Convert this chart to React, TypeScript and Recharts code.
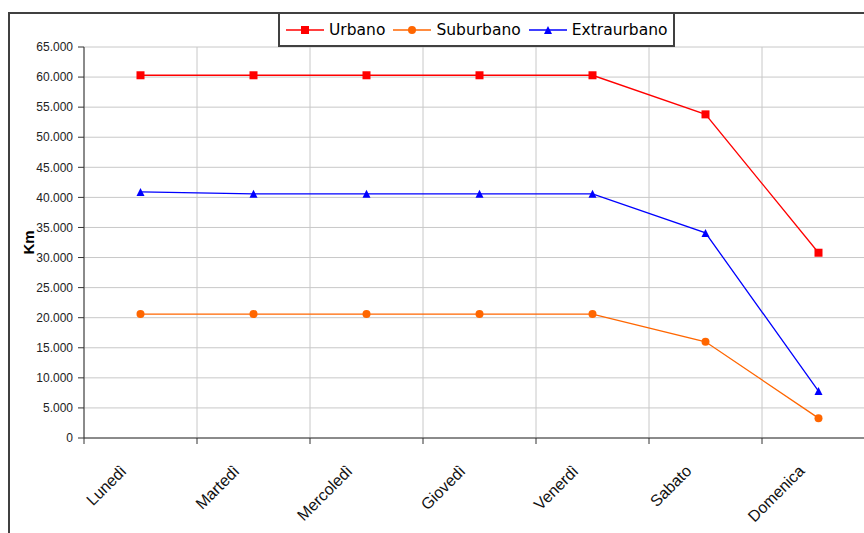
import { LineChart, Line, XAxis, YAxis, CartesianGrid, Legend } from "recharts";

const days = ["Lunedì", "Martedì", "Mercoledì", "Giovedì", "Venerdì", "Sabato", "Domenica"];
const urbano = [60300, 60300, 60300, 60300, 60300, 53800, 30800];
const suburbano = [20600, 20600, 20600, 20600, 20600, 16000, 3300];
const extraurbano = [40900, 40600, 40600, 40600, 40600, 34100, 7800];
const yTicks = [0, 5000, 10000, 15000, 20000, 25000, 30000, 35000, 40000, 45000, 50000, 55000, 60000, 65000];

const data = days.map((day, i) => ({
  day,
  urbano: urbano[i],
  suburbano: suburbano[i],
  extraurbano: extraurbano[i],
}));

const RED = "#FF0000";
const ORANGE = "#FF6600";
const BLUE = "#0000FF";

function fmt(v: number) {
  return String(v).replace(/\B(?=(\d{3})+(?!\d))/g, ".");
}

function Marker({ shape, cx, cy, color, size }: any) {
  const h = size / 2;
  if (shape === "square") return <rect x={cx - h} y={cy - h} width={size} height={size} fill={color} />;
  if (shape === "circle") return <circle cx={cx} cy={cy} r={h} fill={color} />;
  return <polygon points={`${cx},${cy - h} ${cx + h},${cy + h} ${cx - h},${cy + h}`} fill={color} />;
}

const series = [
  { key: "urbano", name: "Urbano", color: RED, shape: "square" },
  { key: "suburbano", name: "Suburbano", color: ORANGE, shape: "circle" },
  { key: "extraurbano", name: "Extraurbano", color: BLUE, shape: "triangle" },
];

function LegendBox() {
  return (
    <div
      style={{
        display: "flex",
        alignItems: "center",
        height: 31,
        padding: "0 6px",
        border: "2px solid #404040",
        background: "#fff",
        fontFamily: "DejaVu Sans, sans-serif",
        fontSize: 15.5,
        color: "#000",
        whiteSpace: "nowrap",
      }}
    >
      {series.map((s, i) => (
        <div key={s.key} style={{ display: "flex", alignItems: "center", marginRight: i < series.length - 1 ? 8 : 0 }}>
          <svg width={38} height={14}>
            <line x1={0} y1={7} x2={38} y2={7} stroke={s.color} strokeWidth={1.3} />
            <Marker shape={s.shape} cx={19} cy={7} color={s.color} size={8} />
          </svg>
          <span style={{ marginLeft: 5 }}>{s.name}</span>
        </div>
      ))}
    </div>
  );
}

function DayTick({ x, y, payload, index }: any) {
  const half = payload && payload.offset ? payload.offset : 0;
  const tx = x - 13;
  const ty = y + 26;
  return (
    <g>
      <line x1={x - half} y1={y - 8} x2={x - half} y2={y - 2} stroke="#333" />
      {index === days.length - 1 && <line x1={x + half} y1={y - 8} x2={x + half} y2={y - 2} stroke="#333" />}
      <text
        x={tx}
        y={ty}
        transform={`rotate(-45, ${tx}, ${ty})`}
        textAnchor="end"
        fontSize={16}
        fontFamily="Liberation Sans, Arial, sans-serif"
        fill="#111"
      >
        {payload.value}
      </text>
    </g>
  );
}

function KmLabel({ viewBox }: any) {
  const cx = viewBox.x + 14;
  const cy = viewBox.y + viewBox.height / 2;
  return (
    <text
      x={cx}
      y={cy}
      transform={`rotate(-90, ${cx}, ${cy})`}
      textAnchor="middle"
      dominantBaseline="central"
      fontSize={15}
      fontWeight="bold"
      fontFamily="Liberation Sans, Arial, sans-serif"
      fill="#000"
    >
      Km
    </text>
  );
}

function boundaries({ xAxis }: any) {
  const s = xAxis && xAxis.scale;
  if (!s) return [];
  const f = typeof s === "function" ? s : (v: string) => s.map(v);
  const bw = typeof s.bandwidth === "function" ? s.bandwidth() : 0;
  const pts = days.map((d) => f(d));
  pts.push(pts[pts.length - 1] + bw);
  return pts;
}

export default function App() {
  return (
    <div style={{ position: "fixed", left: 0, top: 0, width: 864, height: 533, overflow: "hidden", background: "#fff" }}>
      <div
        style={{
          position: "absolute",
          left: 8,
          top: 12,
          width: 920,
          height: 600,
          border: "2px solid #404040",
        }}
      />
      <div style={{ position: "absolute", left: 0, top: 0 }}>
        <LineChart width={900} height={560} data={data} margin={{ top: 47, right: 25, bottom: 22, left: 14 }}>
          <CartesianGrid stroke="#c8c8c8" verticalCoordinatesGenerator={boundaries} />
          <XAxis
            dataKey="day"
            scale="band"
            height={100}
            interval={0}
            tickLine={false}
            axisLine={{ stroke: "#333" }}
            tick={<DayTick />}
          />
          <YAxis
            width={70}
            domain={[0, 65000]}
            ticks={yTicks}
            interval={0}
            tickFormatter={fmt}
            tickSize={6}
            tickMargin={5}
            axisLine={{ stroke: "#333" }}
            tickLine={{ stroke: "#333" }}
            tick={{ fill: "#222", fontSize: 12, fontFamily: "Liberation Sans, Arial, sans-serif" }}
            label={<KmLabel />}
          />
          <Legend
            verticalAlign="middle"
            align="center"
            content={<LegendBox />}
            wrapperStyle={{ position: "absolute", left: 278, top: 12, width: "auto" }}
          />
          {series.map((s) => (
            <Line
              key={s.key}
              dataKey={s.key}
              name={s.name}
              type="linear"
              stroke={s.color}
              strokeWidth={1.3}
              dot={(p: any) => <Marker key={`${s.key}-${p.index}`} shape={s.shape} cx={p.cx} cy={p.cy} color={s.color} size={8} />}
              activeDot={false}
              isAnimationActive={false}
            />
          ))}
        </LineChart>
      </div>
    </div>
  );
}
